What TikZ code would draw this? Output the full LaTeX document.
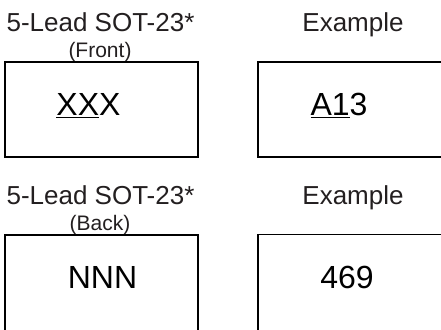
\documentclass[tikz,border=0pt]{standalone}
\usepackage{fontspec}
\setmainfont{Liberation Sans}
\definecolor{inkgray}{HTML}{231F20}

\begin{document}
\begin{tikzpicture}[x=0.75pt,y=-0.75pt,
  title/.style={anchor=base,inner sep=0pt,text=inkgray,font=\fontsize{19.5}{22}\selectfont},
  view/.style={anchor=base,inner sep=0pt,text=inkgray,font=\fontsize{15.75}{18}\selectfont},
  code/.style={anchor=base,inner sep=0pt,font=\fontsize{24}{26}\selectfont},
  box/.style={draw,line width=1pt,inner sep=0pt}]
  \useasboundingbox (0,0) rectangle (441,329);
  \clip (0,0) rectangle (441,329);
  % front marking
  \node[title] (t1) at (100.5,31.5) {5-Lead SOT-23*};
  \node[view] (v1) at (100,57) {(Front)};
  \node[title] (e1) at (353,31) {Example};
  \node[box,minimum width=144.75pt,minimum height=71.25pt] (b1) at (101.5,109.5) {};
  \node[box,minimum width=140.25pt,minimum height=71.25pt] (b2) at (351.5,109.5) {};
  \node[code] (c1) at (88.5,115) {\underline{XX}X};
  \node[code] (c2) at (339,115) {\underline{A1}3};
  % back marking
  \node[title] (t2) at (100.5,204.5) {5-Lead SOT-23*};
  \node[view] (v2) at (100,230) {(Back)};
  \node[title] (e2) at (353,204) {Example};
  \node[box,minimum width=144.75pt,minimum height=78.75pt] (b3) at (101.5,287.5) {};
  \node[box,minimum width=140.25pt,minimum height=78.75pt] (b4) at (351.5,287) {};
  \node[code] (c3) at (102.5,288) {NNN};
  \node[code] (c4) at (347,288) {469};
\end{tikzpicture}
\end{document}
